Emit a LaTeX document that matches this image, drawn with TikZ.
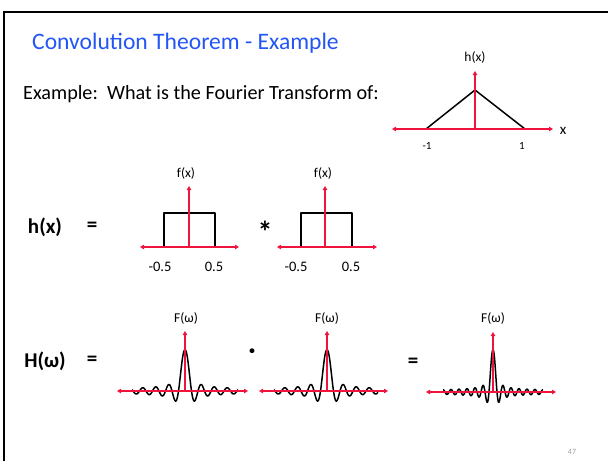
\documentclass[tikz,border=0pt]{standalone}
\usepackage{fontspec}
\setmainfont{Carlito}
\usetikzlibrary{arrows.meta}
\definecolor{slideblue}{RGB}{35, 85, 245}
\definecolor{axisred}{RGB}{238, 20, 60}
\definecolor{pagegray}{RGB}{160, 160, 160}
\tikzstyle{axis} = [axisred, line width=1.5pt, {Triangle[length=4pt, width=4.5pt]}-{Triangle[length=4pt, width=4.5pt]}]
\tikzstyle{upaxis} = [axisred, line width=1.5pt, -{Triangle[length=4pt, width=4.5pt]}]
\tikzstyle{curve} = [black, line width=1.5pt, line join=round]
\tikzstyle{small} = [font=\fontsize{13.5}{13.5}\selectfont, inner sep=0pt]
\tikzstyle{eqn} = [font=\fontsize{21}{21}\selectfont\bfseries, inner sep=0pt]
\tikzset{declare function={sinc(\t)=(1+0.03*abs(pi*\t))*sin(deg(pi*\t+0.0001))/(pi*\t+0.0001);}}

\begin{document}
\begin{tikzpicture}[x=1pt, y=-1pt]
\useasboundingbox (0,0) rectangle (608,461);

% Frame
\draw[line width=2pt] (4,461) -- (4,12) -- (608,12);

% Title
\node[anchor=base west, inner sep=0pt, font=\fontsize{23.6}{23.6}\selectfont, slideblue] (title) at (32,49) {Convolution Theorem - Example};
\node[anchor=base west, inner sep=0pt, font=\fontsize{20.2}{20.2}\selectfont] (question) at (23,99) {Example:\ \ What is the Fourier Transform of:};

% Triangle h(x)
\coordinate (ho) at (475,129);
\coordinate (hl) at (392,129);
\coordinate (hr) at (553,129);
\coordinate (ht) at (475,71);
\draw[curve] (426,129) -- (475,90) -- (525,129);
\draw[axis] (hl) -- (hr);
\draw[upaxis] (ho) -- (ht);
\node[small] (hlabel) at (475,57) {h(x)};
\node[small, font=\fontsize{11}{11}\selectfont] (hm1) at (427,146) {-1};
\node[small, font=\fontsize{11}{11}\selectfont] (hp1) at (522,146) {1};
\node[small, font=\fontsize{15}{15}\selectfont] (hx) at (563,131) {x};

% h(x) = rect * rect
\node[eqn] (hlhs) at (45,227) {h(x)};
\node[eqn] (heq) at (92,227) {=};
\node[eqn, font=\fontsize{30}{30}\selectfont\bfseries] (star) at (265,232) {*};

% first rect
\coordinate (ao) at (189,247);
\coordinate (al) at (140,247);
\coordinate (ar) at (239,247);
\coordinate (at) at (189,186);
\draw[curve] (164,247) -- (164,213) -- (215,213) -- (215,247);
\draw[axis] (al) -- (ar);
\draw[upaxis] (ao) -- (at);
\node[small] (alabel) at (186,173) {f(x)};
\node[small, font=\fontsize{14.5}{14.5}\selectfont] (am) at (160,267) {-0.5};
\node[small, font=\fontsize{14.5}{14.5}\selectfont] (ap) at (214,267) {0.5};

% second rect
\coordinate (bo) at (325,247);
\coordinate (bl) at (277,247);
\coordinate (br) at (377,247);
\coordinate (bt) at (325,186);
\draw[curve] (301,247) -- (301,213) -- (352,213) -- (352,247);
\draw[axis] (bl) -- (br);
\draw[upaxis] (bo) -- (bt);
\node[small] (blabel) at (323,173) {f(x)};
\node[small, font=\fontsize{14.5}{14.5}\selectfont] (bm) at (296,267) {-0.5};
\node[small, font=\fontsize{14.5}{14.5}\selectfont] (bp) at (351,267) {0.5};

% H(w) = sinc . sinc = sinc^2
\node[eqn] (Hlhs) at (45,361) {H(ω)};
\node[eqn] (Heq) at (92,361) {=};
\node[eqn, font=\fontsize{26}{26}\selectfont\bfseries] (dot) at (252,354) {·};
\node[eqn] (Heq2) at (413,363) {=};

% first sinc
\coordinate (co) at (185,391);
\coordinate (cl) at (117,391);
\coordinate (cr) at (248,391);
\coordinate (ct) at (185,331);
\draw[curve] plot[domain=-53:53, samples=300] ({185+\x}, {391-41*sinc(\x/6.5)});
\draw[axis] (cl) -- (cr);
\draw[upaxis] (co) -- (ct);
\node[small] (clabel) at (186,318) {F(ω)};

% second sinc
\coordinate (do) at (327,391);
\coordinate (dl) at (259,391);
\coordinate (dr) at (388,391);
\coordinate (dt) at (327,331);
\draw[curve] plot[domain=-53:51, samples=300] ({327+\x}, {391-41*sinc(\x/6.5)});
\draw[axis] (dl) -- (dr);
\draw[upaxis] (do) -- (dt);
\node[small] (dlabel) at (327,318) {F(ω)};

% product
\coordinate (eo) at (493,392);
\coordinate (el) at (426,392);
\coordinate (er) at (556,392);
\coordinate (et) at (493,332);
\draw[curve] plot[domain=-50:50, samples=400] ({493+\x}, {392-42*sinc(\x/4)});
\draw[axis] (el) -- (er);
\draw[upaxis] (eo) -- (et);
\node[small] (elabel) at (493,318) {F(ω)};

% Page number
\node[small, font=\fontsize{8}{8}\selectfont, pagegray] (page) at (572,452) {47};

\end{tikzpicture}
\end{document}
